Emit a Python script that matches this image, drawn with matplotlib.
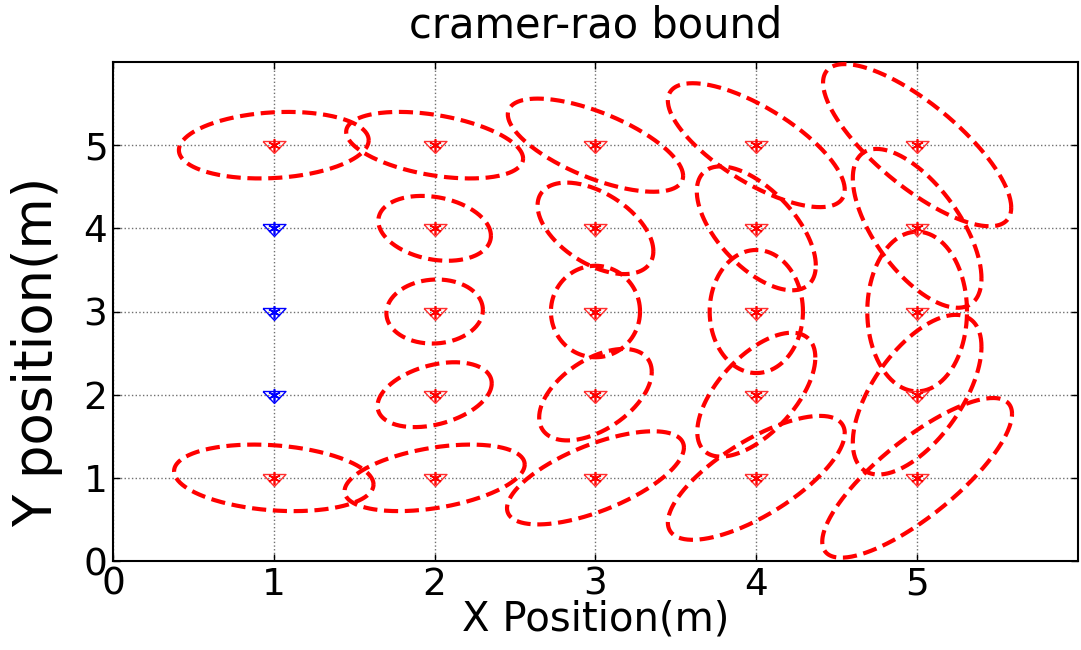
import numpy as np
import matplotlib.pyplot as plt

# anchor nodes (blue) and target points (red)
anchor_x = [1, 1, 1]
anchor_y = [2, 3, 4]

target_x = [1, 1, 2, 2, 2, 2, 2, 3, 3, 3, 3, 3, 4, 4, 4, 4, 4, 5, 5, 5, 5, 5]
target_y = [5, 1, 5, 4, 3, 2, 1, 5, 4, 3, 2, 1, 5, 4, 3, 2, 1, 5, 4, 3, 2, 1]

# CRB ellipse: half extent along x, half extent along y, correlation
half_x = [0.59, 0.62,
          0.55, 0.35, 0.30, 0.355, 0.56,
          0.545, 0.36, 0.277, 0.35, 0.55,
          0.55, 0.37, 0.29, 0.367, 0.55,
          0.585, 0.40, 0.31, 0.40, 0.59]
half_y = [0.40, 0.40,
          0.40, 0.39, 0.385, 0.39, 0.40,
          0.56, 0.55, 0.55, 0.55, 0.56,
          0.745, 0.745, 0.74, 0.745, 0.745,
          0.975, 0.955, 0.96, 0.96, 0.96]
rho = [0.15, -0.2,
       -0.4, -0.23, 0.05, 0.35, 0.4,
       -0.66, -0.5, 0.0, 0.5, 0.65,
       -0.72, -0.6, 0.0, 0.6, 0.72,
       -0.77, -0.63, 0.0, 0.6, 0.8]

ticks = [0, 1, 2, 3, 4, 5]

fig = plt.figure(figsize=(10.81, 6.5), dpi=100)
ax = fig.add_axes([0.1045, 0.1369, 0.8927, 0.7677])

t = np.linspace(0, 2 * np.pi, 300)
for cx, cy, hx, hy, r in zip(target_x, target_y, half_x, half_y, rho):
    ex = cx + hx * np.cos(t)
    ey = cy + hy * (r * np.cos(t) + np.sqrt(1 - r * r) * np.sin(t))
    ax.plot(ex, ey, color='#ff0000', lw=3, ls=(0, (3.4, 1.6)), zorder=3)

tri = [(-11.5, 4), (11.5, 4), (0, -8), (-11.5, 4)]
ax.plot(target_x, target_y, ls='none', marker=tri, ms=16.5, mfc='none',
        mec='#ff3030', mew=1.0, zorder=4)
ax.plot(target_x, target_y, ls='none', marker=(6, 2, 0), ms=9,
        mec='#ff0000', mew=1.2, zorder=4)
ax.plot(anchor_x, anchor_y, ls='none', marker=tri, ms=16.5, mfc='none',
        mec='#0000ff', mew=1.0, zorder=4)
ax.plot(anchor_x, anchor_y, ls='none', marker=(6, 2, 0), ms=9,
        mec='#0000ff', mew=1.2, zorder=4)

ax.set_xlim(0, 6)
ax.set_ylim(0, 6)
ax.set_xticks(ticks)
ax.set_yticks(ticks)
ax.grid(True, color='#707070', ls=':', lw=1.0)
ax.tick_params(direction='in', length=5, width=1, top=True, right=True,
               labelsize=27)
ax.tick_params(axis='x', pad=4)
ax.tick_params(axis='y', pad=4)
for s in ax.spines.values():
    s.set_linewidth(1.5)

ax.set_title('cramer-rao bound', fontsize=30, pad=18)
ax.set_xlabel('X Position(m)', fontsize=29, labelpad=-2)
ax.set_ylabel('Y position(m)', fontsize=38)
ax.yaxis.set_label_coords(-0.052, 0.42)

fig.savefig('out.png', dpi=100)
